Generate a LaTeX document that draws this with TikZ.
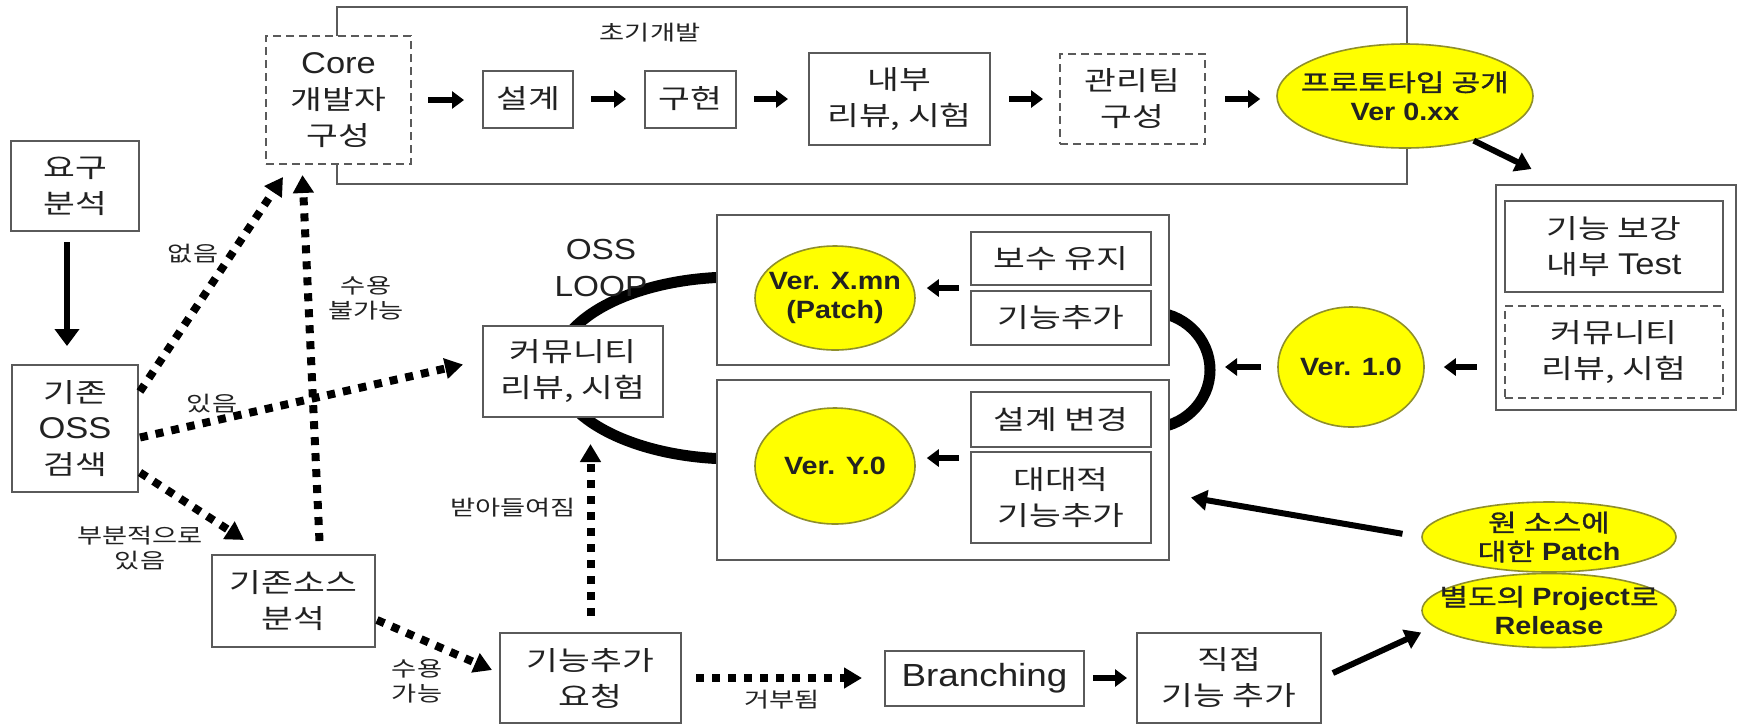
\documentclass[tikz,border=0pt]{standalone}
\usepackage{fontspec}
\setmainfont[FakeStretch=1.15]{Liberation Sans}
\newfontfamily\latf[FakeStretch=1.15]{Liberation Sans}
\newfontfamily\korf[FakeStretch=1.3]{Noto Sans CJK KR}
\newfontfamily\korb[FakeStretch=1.3,FakeBold=1.2]{Noto Sans CJK KR}
\newcommand\latbig[1]{{\latf\fontsize{15}{18}\selectfont #1}}
\newcommand\ylat[1]{{\latf\bfseries\fontsize{12.5}{14.5}\selectfont #1}}
\usetikzlibrary{arrows.meta,calc,shapes.geometric}
\definecolor{boxline}{HTML}{5A5A5A}
\definecolor{ellline}{HTML}{8F8F2A}
\definecolor{ylw}{HTML}{FFFF00}
\definecolor{txt}{HTML}{222222}
\begin{document}
\begin{tikzpicture}[x=0.5pt,y=-0.5pt,
  box/.style={draw=boxline, line width=1pt, fill=white, align=center, inner sep=0pt, text=txt, font=\korf\fontsize{13.3}{18}\selectfont},
  dbox/.style={box, dash pattern=on 4pt off 2.5pt},
  yel/.style={ellipse, draw=ellline, line width=0.8pt, fill=ylw, inner sep=0pt},
  ytext/.style={align=center, inner sep=0pt, text=txt, font=\korb\fontsize{12}{14.5}\selectfont},
  lab/.style={align=center, inner sep=0pt, text=txt, font=\korf\fontsize{10.5}{12.5}\selectfont},
  fat/.style={line width=3.4pt, -{Triangle[length=6pt,width=8.5pt]}},
  med/.style={line width=3pt, -{Triangle[length=8pt,width=10pt]}},
  dotarrow/.style={line width=4pt, dash pattern=on 4pt off 4pt, -{Triangle[length=9pt,width=10pt]}},
  loopline/.style={line width=5.5pt},
]
\fill[white] (0,0) rectangle (1741,725);
\useasboundingbox (0,0) rectangle (1741,725);

% frame of initial development
\node[box, minimum width=535pt, minimum height=88.5pt] (frame) at (872,95.5) {};
\node[lab] (chogi) at (650,33) {초기개발};

% OSS loop arcs
\draw[loopline] (735,277) arc[start angle=270, end angle=90, x radius=179, y radius=91];
\draw[loopline] (1150,312) arc[start angle=-90, end angle=90, x radius=60, y radius=58];
\coordinate (loopR) at (1210,367);

% left column
\node[box, minimum width=64pt, minimum height=45pt] (yogu) at (75,186) {요구\\분석};
\node[box, minimum width=63pt, minimum height=63.5pt] (oss) at (75,428.5) {기존\\\latbig{OSS}\\검색};

% top row
\node[dbox, minimum width=72.5pt, minimum height=64pt] (core) at (338.5,100) {\latbig{Core}\\개발자\\구성};
\node[box, minimum width=45pt, minimum height=28.5pt] (sulgye) at (528,99) {설계};
\node[box, minimum width=45.5pt, minimum height=28.5pt] (guhyun) at (690.5,99) {구현};
\node[box, minimum width=90.5pt, minimum height=46pt] (naebu) at (899.5,99) {내부\\리뷰, 시험};
\node[dbox, minimum width=72.5pt, minimum height=45pt] (gwanri) at (1132.5,99) {관리팀\\구성};
\node[yel, minimum width=128pt, minimum height=52pt, label={[ytext]center:{프로토타입 공개}\\\ylat{Ver 0.xx}}] (proto) at (1405,96) {};

% right box
\node[box, minimum width=120pt, minimum height=112.5pt] (rbox) at (1615.5,297.5) {};
\node[box, minimum width=109pt, minimum height=45.5pt] (rtest) at (1614,246.5) {기능 보강\\내부 \latbig{Test}};
\node[dbox, minimum width=109pt, minimum height=46pt] (rcomm) at (1614,352) {커뮤니티\\리뷰, 시험};
\node[yel, minimum width=73pt, minimum height=60pt, label={[ytext]center:\ylat{Ver. 1.0}}] (ver1) at (1351,367) {};

% loop boxes
\node[box, minimum width=226pt, minimum height=75pt] (upper) at (943,290) {};
\node[box, minimum width=226pt, minimum height=90pt] (lower) at (943,470) {};
\node[yel, minimum width=80pt, minimum height=52pt, label={[ytext]center:\ylat{Ver. X.mn}\\\ylat{(Patch)}}] (verx) at (835,298) {};
\node[box, minimum width=90pt, minimum height=26.5pt] (bosu) at (1061,258.5) {보수 유지};
\node[box, minimum width=90pt, minimum height=27pt] (gn) at (1061,318) {기능추가};
\node[yel, minimum width=80pt, minimum height=58pt, label={[ytext]center:\ylat{Ver. Y.0}}] (very) at (835,466) {};
\node[box, minimum width=90pt, minimum height=27.5pt] (sgbg) at (1061,419.5) {설계 변경};
\node[box, minimum width=90pt, minimum height=45.5pt] (dd) at (1061,497.5) {대대적\\기능추가};
\node[box, minimum width=90pt, minimum height=45.5pt] (comm) at (573,371.5) {커뮤니티\\리뷰, 시험};
\node[lab, font=\latf\fontsize{14.5}{18.5}\selectfont] (ossloop) at (601,268.5) {OSS\\LOOP};

% bottom row
\node[box, minimum width=81.5pt, minimum height=46pt] (src) at (293.5,601) {기존소스\\분석};
\node[box, minimum width=90.5pt, minimum height=45pt] (req) at (590.5,678) {기능추가\\요청};
\node[box, minimum width=99.5pt, minimum height=27.5pt, font=\latf\fontsize{16}{18}\selectfont] (br) at (984.5,678) {Branching};
\node[box, minimum width=92pt, minimum height=45pt] (jik) at (1229,678) {직접\\기능 추가};
\node[yel, minimum width=127pt, minimum height=35pt, label={[ytext]center:{원 소스에}\\{대한 \ylat{Patch}}}] (patch) at (1549,537) {};
\node[yel, minimum width=127pt, minimum height=37pt, label={[ytext]center:{별도의 \ylat{Project}로}\\\ylat{Release}}] (sep) at (1549,610.5) {};

% labels
\node[lab] (l1) at (193,254) {없음};
\node[lab] (l2) at (366,298) {수용\\불가능};
\node[lab] (l3) at (212,404) {있음};
\node[lab] (l4) at (140,548) {부분적으로\\있음};
\node[lab] (l5) at (513,508) {받아들여짐};
\node[lab] (l6) at (417,681) {수용\\가능};
\node[lab] (l7) at (782,700) {거부됨};

% solid arrows
\draw[line width=3pt, -{Triangle[length=8.5pt,width=12pt]}, shorten <=5pt, shorten >=9pt] ($(yogu.south)+(-8,0)$) -- ($(oss.north)+(-8,0)$);
\draw[fat, shorten <=8pt, shorten >=9pt] (core.east) -- (core.east -| sulgye.west);
\draw[fat, shorten <=8.5pt, shorten >=9pt] (sulgye.east) -- (guhyun.west);
\draw[fat, shorten <=8.5pt, shorten >=10pt] (guhyun.east) -- (naebu.west);
\draw[fat, shorten <=9pt, shorten >=8pt] (naebu.east) -- (gwanri.west);
\draw[fat, shorten <=9.5pt, shorten >=8pt] (gwanri.east) -- (gwanri.east -| proto.west);
\coordinate (pr1) at ($(rbox.north west)+(37,-15)$);
\draw[med] (proto.-33) -- (pr1);
\draw[fat, shorten <=9pt, shorten >=9.5pt] (ver1.east -| rbox.west) -- (ver1.east);
\draw[fat, shorten <=8pt, shorten >=7.5pt] (ver1.west) -- (loopR);
\coordinate (m1) at ($(bosu.south west)!0.5!(gn.north west)$);
\draw[fat, shorten <=5.5pt, shorten >=5.5pt] (m1) -- (m1 -| verx.east);
\coordinate (m2) at ($(dd.north west)+(0,7)$);
\draw[fat, shorten <=5.5pt, shorten >=5.5pt] (m2) -- (m2 -| very.east);
\coordinate (dd1) at ($(dd.east)+(39,0)$);
\draw[med, shorten <=9.5pt] (patch.west) -- (dd1);
\draw[fat, shorten <=4pt, shorten >=4.5pt] (br.east) -- (jik.west);
\coordinate (sp1) at ($(sep.west)+(0,22)$);
\draw[med, shorten <=6pt] (jik.east) -- (sp1);

% dotted arrows
\draw[dotarrow] ($(oss.east)+(1,-37)$) -- ($(core.south west)+(18,12)$);
\draw[dotarrow] ($(src.north)+(26,-13)$) -- ($(core.south)+(-36,10)$);
\draw[dotarrow] ($(oss.east)+(1,9)$) -- ($(comm.west)+(-19,-7)$);
\draw[dotarrow] ($(oss.east)+(1,44)$) -- ($(src.north west)+(33,-14)$);
\draw[dotarrow] ($(src.east)+(1,19)$) -- ($(req.west)+(-7,-8)$);
\draw[dotarrow, shorten <=8pt, shorten >=13pt] (req.north) -- (req.north |- comm.south);
\draw[dotarrow, shorten <=7pt, shorten >=11pt] (req.east) -- (req.east -| br.west);
\end{tikzpicture}
\end{document}
